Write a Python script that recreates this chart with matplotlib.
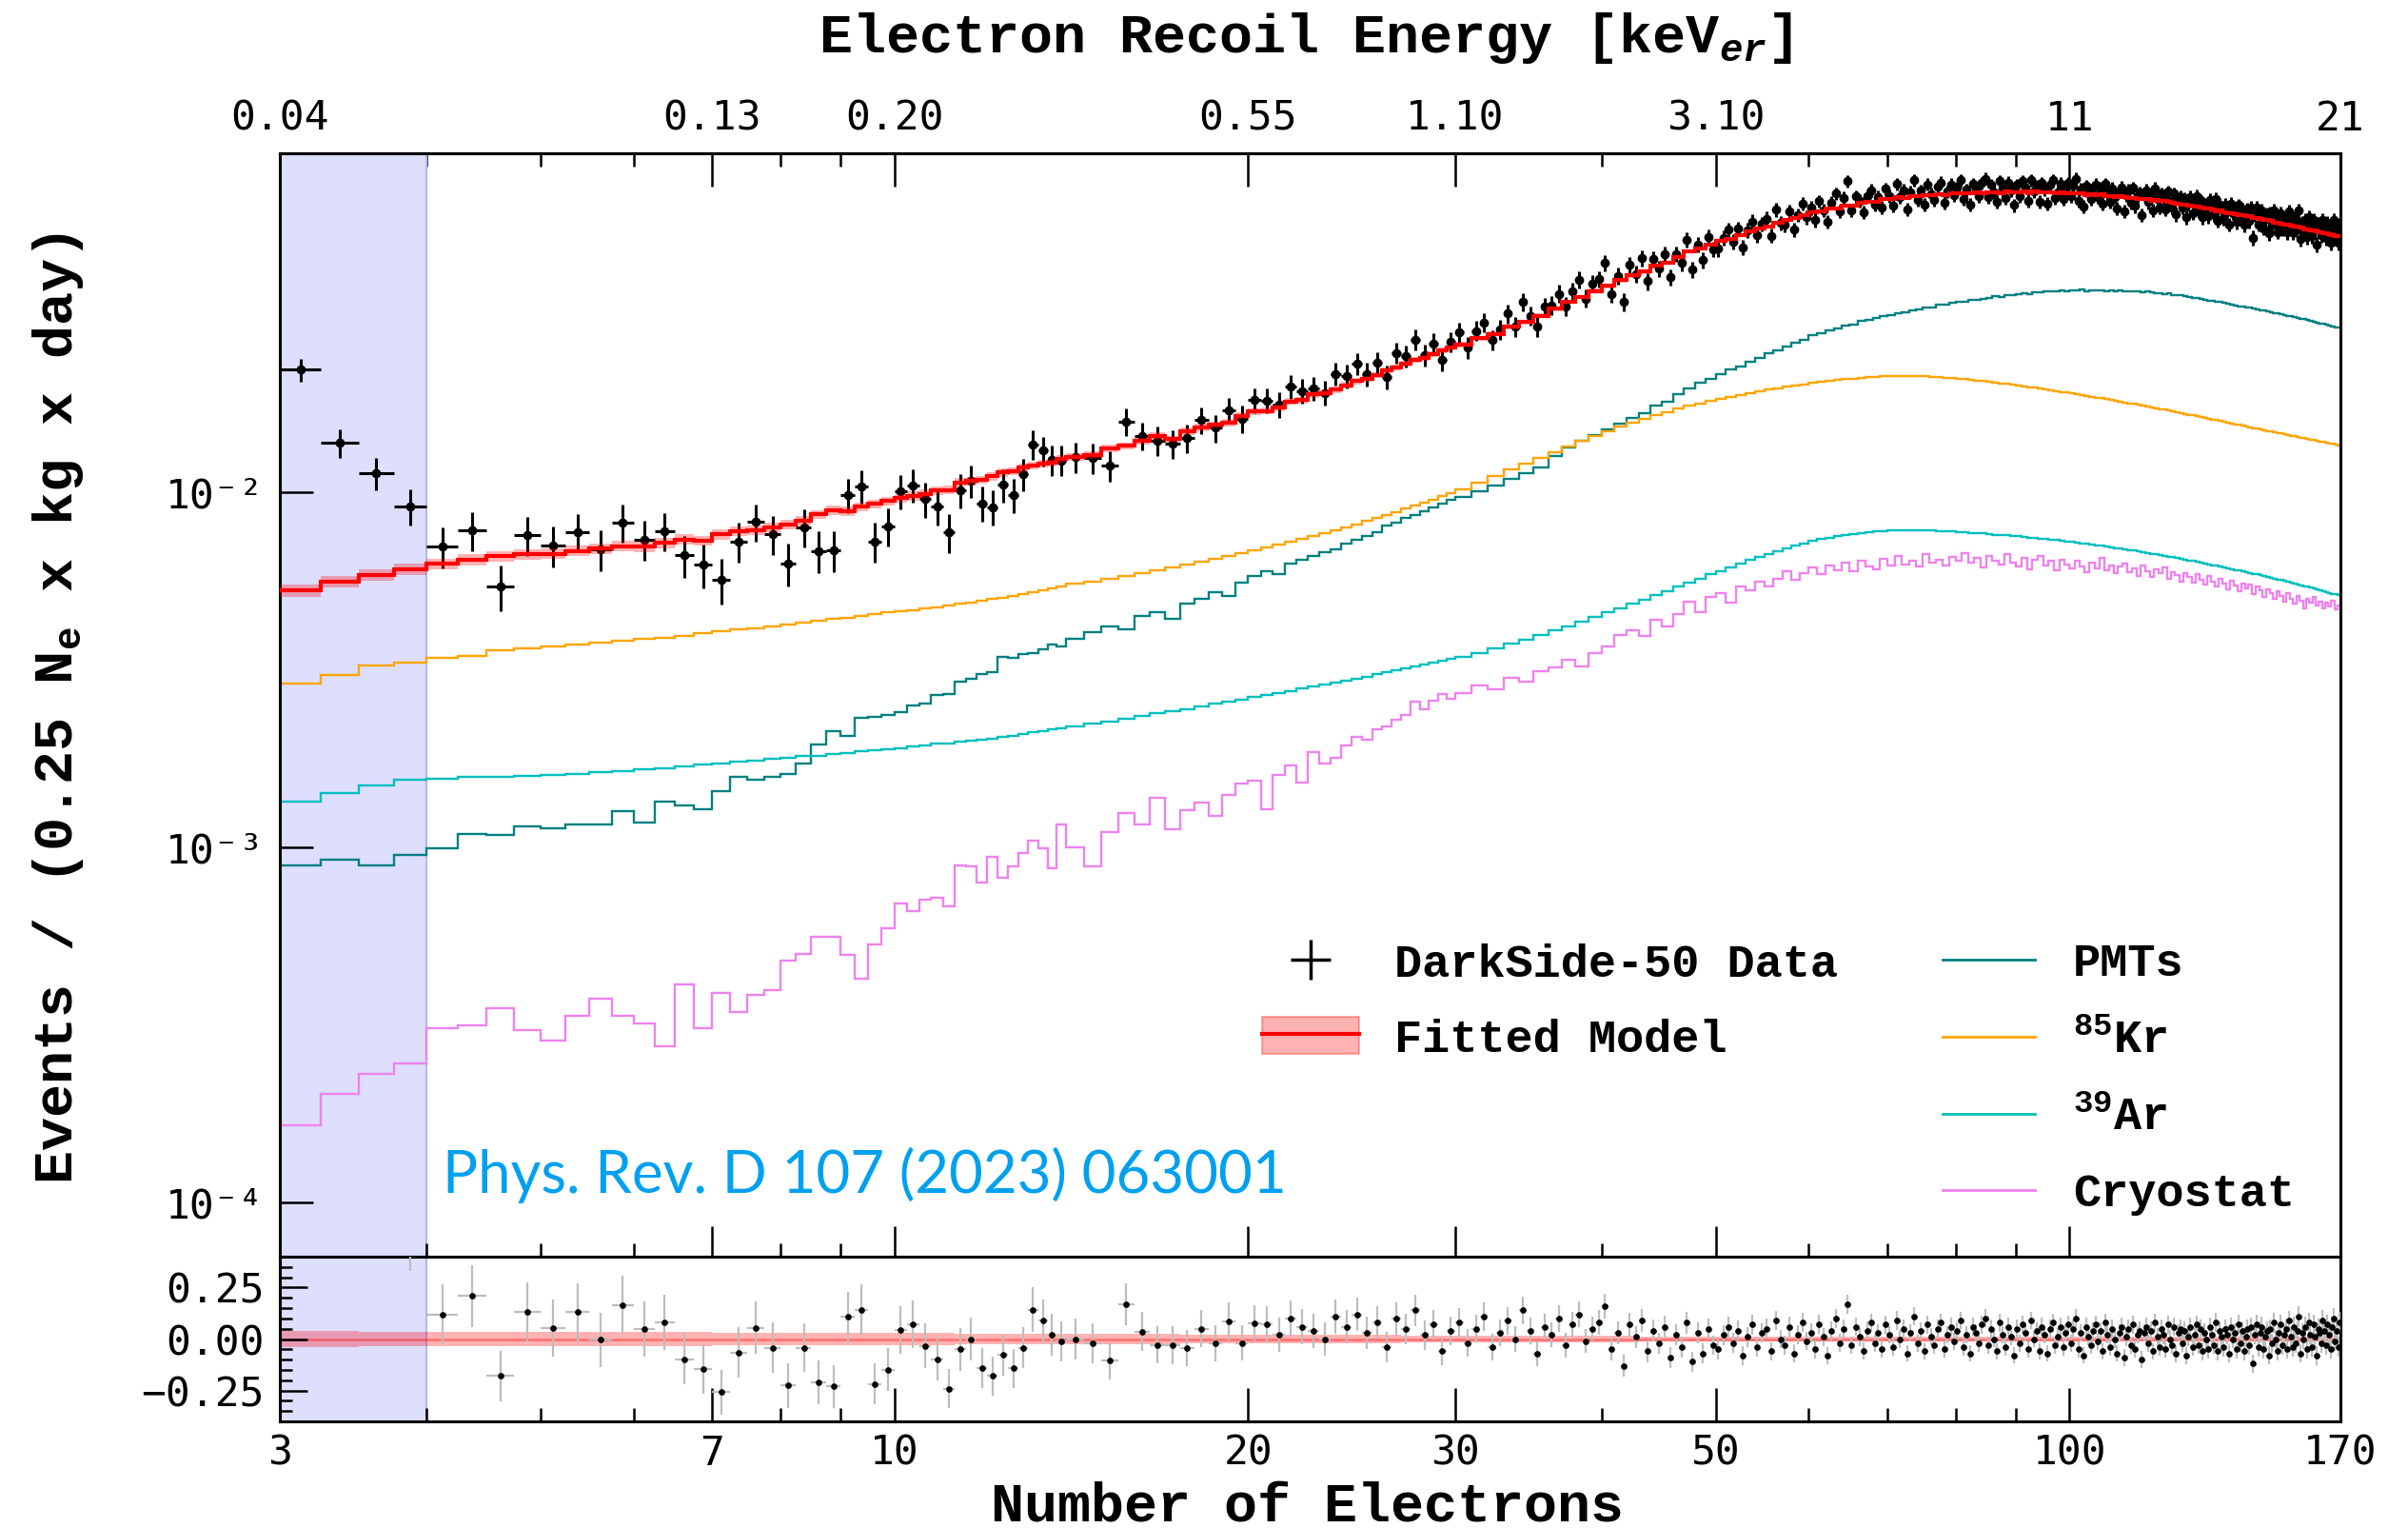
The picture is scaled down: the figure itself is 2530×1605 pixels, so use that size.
import numpy as np
import matplotlib
matplotlib.use("Agg")
import matplotlib.pyplot as plt
from matplotlib.lines import Line2D
from matplotlib.patches import Patch
from matplotlib.legend_handler import HandlerTuple
from matplotlib.ticker import FixedLocator, NullFormatter, NullLocator, FixedFormatter

# ---------------- data (rates in units of 1e-5 events / (0.25 Ne kg day)) ----------------
SCALE = 1e-5
# model bin edges in number of electrons (0.25 Ne bins below 14, 0.5 to 30, 1 above)
edges = np.concatenate([np.arange(3, 14, 0.25), np.arange(14, 30, 0.5), np.arange(30, 171, 1.0)])
# data bin edges (0.25 below 14, 0.5 above)
data_edges = np.concatenate([np.arange(3, 14, 0.25), np.arange(14, 30, 0.5), np.arange(30, 170.25, 0.5)])

kr85 = [288, 305, 324, 330, 341, 345, 358, 363, 368, 372, 376, 380, 385, 389, 393, 399,
        404, 409, 413, 418, 423, 428, 433, 438, 443, 448, 452, 457, 461, 465, 470, 474,
        479, 484, 489, 494, 499, 504, 510, 516, 522, 528, 534, 540,
        550, 560, 570, 581, 592, 603, 614, 625, 636, 648, 660, 672, 684, 697, 710, 723,
        737, 751, 765, 780, 795, 811, 827, 844, 861, 878, 896, 914, 933, 952, 972, 992,
        1015, 1062, 1108, 1155, 1202, 1249, 1296, 1343, 1389, 1434,
        1479, 1523, 1566, 1606, 1644, 1680, 1714, 1746, 1776, 1803,
        1829, 1853, 1876, 1898, 1919, 1939, 1958, 1976, 1993, 2009,
        2024, 2038, 2051, 2063, 2074, 2084, 2093, 2101, 2108, 2113,
        2117, 2119, 2120, 2119, 2117, 2114, 2110, 2105, 2099, 2092,
        2085, 2077, 2069, 2060, 2051, 2042, 2032, 2022, 2012, 2002,
        1992, 1982, 1972, 1962, 1952, 1942, 1932, 1922, 1912, 1902,
        1892, 1882, 1872, 1862, 1852, 1842, 1833, 1823, 1813, 1804,
        1794, 1785, 1775, 1766, 1757, 1747, 1738, 1729, 1720, 1711,
        1702, 1693, 1684, 1675, 1666, 1657, 1649, 1640, 1632, 1623,
        1615, 1607, 1598, 1590, 1582, 1574, 1566, 1558, 1550, 1542,
        1535, 1527, 1520, 1513, 1506, 1499, 1492, 1485, 1478, 1472,
        1465, 1459, 1452, 1446, 1440, 1433, 1427, 1421, 1415, 1409,
        1403, 1397, 1391, 1386, 1380, 1374, 1369, 1363, 1358, 1352]

ar39 = [134, 142, 149, 155, 156, 158, 158, 159, 160, 161, 163, 164, 166, 167, 169, 171,
        172, 174, 175, 177, 178, 180, 181, 183, 184, 186, 187, 189, 190, 192, 193, 195,
        196, 198, 199, 201, 202, 204, 206, 208, 210, 212, 214, 216,
        218, 222, 226, 230, 234, 238, 241, 245, 249, 253, 256, 260, 264, 268, 271, 275,
        279, 283, 287, 290, 294, 298, 302, 306, 310, 314, 318, 322, 326, 330, 334, 338,
        342, 352, 362, 373, 384, 395, 407, 419, 431, 444,
        457, 470, 484, 498, 512, 526, 541, 556, 570, 585,
        599, 614, 628, 642, 656, 669, 682, 694, 706, 717,
        727, 736, 744, 751, 757, 762, 767, 771, 774, 776,
        778, 779, 780, 780, 780, 779, 778, 777, 775, 773,
        771, 769, 767, 765, 763, 761, 758, 756, 754, 751,
        749, 746, 744, 741, 739, 736, 733, 731, 728, 725,
        722, 719, 716, 713, 710, 707, 704, 701, 698, 695,
        692, 689, 686, 683, 679, 676, 673, 670, 667, 663,
        660, 657, 654, 651, 647, 644, 641, 638, 635, 631,
        628, 625, 622, 619, 616, 613, 609, 606, 603, 600,
        597, 594, 591, 588, 585, 582, 579, 576, 573, 570,
        567, 564, 561, 558, 555, 552, 549, 546, 543, 540,
        537, 534, 531, 528, 525, 522, 520, 517, 514, 512]

pmts = [89, 92, 89, 95, 99, 109, 108, 114, 113, 116, 116, 126, 117, 134, 131, 128,
        144, 158, 155, 158, 161, 172, 194, 212, 205, 231, 233, 236, 240, 251, 253, 268,
        270, 292, 298, 307, 310, 343, 340, 349, 352, 360, 372, 368,
        385, 402, 418, 410, 447, 458, 440, 485, 500, 522, 510, 556, 580, 598, 585, 628,
        645, 660, 676, 690, 715, 735, 752, 770, 805, 820, 846, 862, 880, 905, 925, 950,
        970, 1005, 1040, 1085, 1130, 1175, 1260, 1330, 1395, 1445,
        1495, 1555, 1610, 1670, 1750, 1790, 1880, 1960, 2030, 2080,
        2140, 2210, 2250, 2330, 2380, 2450, 2500, 2560, 2630, 2680,
        2760, 2790, 2850, 2880, 2940, 2960, 3030, 3050, 3080, 3130,
        3150, 3190, 3200, 3250, 3270, 3300, 3310, 3360, 3370, 3400,
        3420, 3430, 3470, 3480, 3500, 3510, 3550, 3540, 3580, 3590,
        3600, 3620, 3610, 3650, 3640, 3660, 3680, 3660, 3690, 3680,
        3700, 3690, 3710, 3680, 3700, 3690, 3700, 3680, 3690, 3680,
        3690, 3670, 3680, 3660, 3670, 3650, 3660, 3640, 3630, 3620,
        3610, 3620, 3590, 3580, 3570, 3550, 3530, 3520, 3510, 3490,
        3480, 3460, 3450, 3430, 3420, 3400, 3380, 3370, 3350, 3330,
        3330, 3305, 3300, 3280, 3270, 3245, 3240, 3220, 3210, 3190,
        3180, 3160, 3150, 3130, 3120, 3100, 3090, 3070, 3060, 3040,
        3030, 3010, 3000, 2980, 2970, 2950, 2940, 2920, 2910, 2895]

cryostat = [16.5, 20.2, 22.9, 24.6, 30.9, 31.5, 35.2, 30.5, 28.5, 33.4, 37.4, 33.5,
            31.8, 27.5, 41.1, 30.9, 38.9, 34.4, 38.3, 39.6, 47.9, 50.1, 55.9, 55.9,
            49.7, 42.7, 53.3, 58.9, 69.5, 66, 71, 72, 68, 88.7, 88, 79.6,
            94, 82, 88, 96, 104, 99, 87, 116,
            100, 88, 110, 125, 116, 138, 112, 127, 133, 122, 140, 151, 154, 128, 160, 170,
            152, 185, 172, 178, 193, 204, 200, 215, 218, 228, 236, 256, 244, 258, 270, 262,
            272, 285, 278, 300, 292, 312, 320, 336, 322, 352,
            368, 395, 408, 392, 436, 418, 452, 490, 458, 505,
            520, 488, 540, 528, 560, 542, 570, 598, 565, 590,
            612, 585, 620, 600, 632, 598, 640, 615, 605, 648,
            620, 660, 625, 640, 615, 668, 630, 645, 620, 655,
            638, 672, 630, 650, 612, 660, 640, 625, 668, 630,
            615, 650, 605, 642, 660, 620, 638, 600, 645, 625,
            608, 640, 615, 595, 632, 610, 650, 600, 622, 590,
            615, 628, 595, 610, 580, 620, 598, 575, 605, 590,
            612, 570, 595, 582, 560, 590, 575, 555, 585, 565,
            548, 580, 560, 540, 568, 550, 530, 562, 545, 525,
            552, 535, 548, 515, 540, 528, 505, 532, 518, 500,
            525, 510, 492, 518, 500, 485, 510, 495, 470, 500,
            488, 505, 478, 492, 470, 488, 475, 495, 468, 480]

# (data - model) / model per data bin
residual = [3.19, 1.455, 0.93, 0.506, 0.12, 0.209, -0.18, 0.132, 0.054, 0.131, -0.003, 0.166,
            0.048, 0.082, -0.098, -0.146, -0.257, -0.065, 0.054, -0.042, -0.226, -0.042, -0.21, -0.231,
            0.108, 0.143, -0.218, -0.149, 0.043, 0.071, -0.034, -0.098, -0.242, -0.049, 0.0, -0.142,
            -0.18, -0.077, -0.142, -0.042, 0.143, 0.089, 0.02, -0.011,
            0.0, -0.02, -0.105, 0.17, 0.035, -0.03, -0.03, -0.045, 0.05, -0.02, 0.086, -0.02,
            0.077, 0.07, 0.02, 0.1, 0.06, 0.04, 0.0, 0.108, 0.06, 0.12, 0.03, 0.08,
            -0.04, 0.10, 0.05, 0.14, 0.02, 0.07, -0.06, 0.04,
            0.08, -0.02, 0.05, 0.11, -0.04, 0.03, 0.09, 0.00, 0.14, 0.04,
            -0.07, 0.06, 0.02, 0.10, -0.03, 0.07, 0.12, -0.01, 0.05, 0.08,
            0.16, -0.05, 0.03, -0.13, 0.07, 0.01, 0.09, -0.06, 0.04, -0.02,
            0.06, -0.09, 0.02, -0.04, 0.08, -0.11, 0.03, -0.07, 0.05, -0.03,
            -0.05, 0.02, 0.06, -0.02, 0.04, -0.08, 0.01, 0.07, -0.04, 0.03,
            0.05, -0.06, 0.09, 0.00, -0.03, 0.06, -0.07, 0.02, 0.08, -0.01,
            0.03, -0.05, 0.07, 0.01, -0.08, 0.04, 0.10, -0.02, 0.05, 0.17,
            -0.03, 0.06, 0.01, -0.06, 0.04, 0.08, -0.02, 0.03, -0.05, 0.07,
            0.02, -0.04, 0.09, 0.00, 0.05, -0.07, 0.03, 0.11, -0.02, 0.04,
            -0.06, 0.07, 0.01, -0.03, 0.05, 0.08, -0.05, 0.02, 0.06, -0.01,
            0.04, 0.09, -0.04, 0.02, -0.07, 0.06, 0.03, -0.02, 0.07, 0.10,
            -0.03, 0.05, 0.00, -0.06, 0.08, 0.02, -0.04, 0.06, 0.01, -0.08,
            0.05, -0.02, 0.07, 0.03, -0.05, 0.09, 0.00, 0.04, -0.06, 0.06,
            0.02, -0.07, 0.05, 0.08, -0.03, 0.01, 0.06, -0.04, 0.03, 0.07,
            -0.02, 0.05, 0.10, -0.05, 0.03, -0.08, 0.06, 0.01, -0.03, 0.04,
            0.07, -0.01, 0.04, -0.06, 0.08, 0.02, -0.04, 0.05, 0.00, -0.07,
            0.03, 0.06, -0.09, 0.01, 0.05, -0.03, 0.07, -0.05, 0.02, 0.04,
            -0.10, 0.03, 0.06, -0.02, 0.04, -0.06, 0.08, 0.01, -0.04, 0.05,
            0.02, -0.05, 0.07, 0.00, -0.03, 0.06, -0.07, 0.03, 0.05, -0.02,
            0.04, -0.08, 0.01, 0.06, -0.04, 0.02, 0.07, -0.03, 0.05, -0.06,
            0.03, 0.00, -0.05, 0.06, 0.02, -0.03, 0.08, -0.06, 0.04, 0.01,
            -0.04, 0.05, 0.02, -0.07, 0.06, 0.00, 0.03, -0.05, 0.07, -0.02,
            0.04, -0.06, 0.01, 0.05, -0.03, 0.06, -0.12, 0.02, 0.07, -0.04,
            0.03, 0.06, -0.05, 0.01, 0.04, -0.08, 0.05, -0.02, 0.08, 0.00,
            -0.06, 0.03, 0.07, -0.03, 0.02, 0.05, -0.05, 0.09, 0.01, -0.04,
            0.06, -0.02, 0.04, 0.11, -0.07, 0.03, 0.00, 0.06, -0.05, 0.08,
            0.02, -0.04, 0.07, 0.01, -0.08, 0.05, 0.03, -0.02, 0.09, 0.04,
            -0.03, 0.07, 0.02, -0.05, 0.06, 0.10, -0.01, 0.04, -0.04, 0.08]

EXPOSURE = 8300.0          # effective counts per unit rate (sets Poisson error bars)
MODEL_UNC_COEF = 0.0028    # fit uncertainty band ~ coef * sqrt(model)
ROI_LOW, ROI_HIGH = 3, 4   # excluded (shaded) region in Ne

bottom_ticks = [3, 7, 10, 20, 30, 50, 100, 170]
bottom_tick_labels = ["3", "7", "10", "20", "30", "50", "100", "170"]
minor_ticks = [4, 5, 6, 8, 9, 40, 60, 70, 80, 90]
top_tick_labels = ["0.04", "0.13", "0.20", "0.55", "1.10", "3.10", "11", "21"]
y_ticks = [1e-4, 1e-3, 1e-2]
y_tick_labels = ["10\u207b\u2074", "10\u207b\u00b3", "10\u207b\u00b2"]
res_ticks = [-0.25, 0.0, 0.25]
res_tick_labels = ["\u22120.25", "0.00", "0.25"]

# ---------------- derived ----------------
kr85 = np.array(kr85) * SCALE
ar39 = np.array(ar39) * SCALE
pmts = np.array(pmts) * SCALE
cryostat = np.array(cryostat) * SCALE
residual = np.array(residual)
model = kr85 + ar39 + pmts + cryostat
model_unc = MODEL_UNC_COEF * np.sqrt(model)

d_centers = 0.5 * (data_edges[1:] + data_edges[:-1])
d_halfw = 0.5 * (data_edges[1:] - data_edges[:-1])
model_at_data = model[np.searchsorted(edges, d_centers) - 1]   # step-function value of the model
data = model_at_data * (1 + residual)
data_err = np.sqrt(data * EXPOSURE) / EXPOSURE

# ---------------- style ----------------
plt.rcParams["mathtext.fontset"] = "custom"
plt.rcParams["mathtext.rm"] = "Liberation Mono:bold"
plt.rcParams["mathtext.it"] = "Liberation Mono:italic:bold"
plt.rcParams["mathtext.bf"] = "Liberation Mono:bold"
LABEL_FONT = dict(family="Liberation Mono", weight="bold", size=42)
LEG_FONT = dict(family="Liberation Mono", weight="bold", size=35)
TICK_FONT = "DejaVu Sans Mono"
TICK_SIZE = 31
SPINE_W = 2.2

fig = plt.figure(figsize=(25.3, 16.05), dpi=100)
ax = fig.add_axes([0.1162, 0.17757, 0.8557, 0.72212])
axr = fig.add_axes([0.1162, 0.06978, 0.8557, 0.10779], sharex=ax)

for a in (ax, axr):
    a.axvspan(ROI_LOW, ROI_HIGH, facecolor="blue", alpha=0.13, lw=0, zorder=0)
    a.axvline(ROI_HIGH, color="#b4b4f4", lw=1.5, zorder=0.5)
    for s in a.spines.values():
        s.set_linewidth(SPINE_W)

# components
comp_styles = [(pmts, "teal", "PMTs"), (kr85, "orange", "$^{85}$Kr"),
               (ar39, "c", "$^{39}$Ar"), (cryostat, "violet", "Cryostat")]
for vals, col, lab in comp_styles:
    ax.stairs(vals, edges, baseline=None, color=col, lw=1.7, zorder=2)

# data
ax.errorbar(d_centers, data, xerr=d_halfw, yerr=data_err, fmt="o", color="k", ms=6,
            elinewidth=2.2, capsize=0, zorder=3)

# fitted model with band
ax.stairs(model + model_unc, edges, baseline=model - model_unc, fill=True,
          color="red", alpha=0.3, lw=0, zorder=4)
ax.stairs(model, edges, baseline=None, color="red", lw=3.0, zorder=5)

ax.set_xscale("log")
ax.set_yscale("log")
ax.set_xlim(3, 170)
ax.set_ylim(10 ** -4.1535, 10 ** -1.0467)

# residual panel
rel_unc = model_unc / model
axr.stairs(rel_unc, edges, baseline=-rel_unc, fill=True, color="red", alpha=0.3, lw=0, zorder=1)
axr.axhline(0, color="red", alpha=0.35, lw=2, zorder=1)
axr.errorbar(d_centers, residual, xerr=d_halfw, yerr=data_err / model_at_data, fmt="o",
             color="k", ecolor="#bdbdbd", ms=3.8, elinewidth=1.6, capsize=0, zorder=3)
axr.set_ylim(-0.4, 0.4)

# ---------------- ticks ----------------
ax.xaxis.set_major_locator(FixedLocator(bottom_ticks))
ax.xaxis.set_minor_locator(FixedLocator(minor_ticks))
ax.xaxis.set_major_formatter(FixedFormatter(bottom_tick_labels))
ax.xaxis.set_minor_formatter(NullFormatter())
ax.tick_params(axis="x", which="major", direction="in", length=23, width=1.8, labelbottom=False)
ax.tick_params(axis="x", which="minor", direction="in", length=10, width=1.8, labelbottom=False)

ax.yaxis.set_major_locator(FixedLocator(y_ticks))
ax.yaxis.set_major_formatter(FixedFormatter(y_tick_labels))
ax.yaxis.set_minor_locator(NullLocator())
ax.tick_params(axis="y", which="major", direction="in", length=25, width=1.8, pad=12,
               labelsize=TICK_SIZE)
for t in ax.get_yticklabels():
    t.set_fontfamily(TICK_FONT)

axr.tick_params(axis="x", which="major", direction="in", length=25, width=1.8, pad=9,
                labelsize=TICK_SIZE, labelbottom=True)
axr.tick_params(axis="x", which="minor", direction="in", length=10, width=1.8)
axr.yaxis.set_major_locator(FixedLocator(res_ticks))
axr.yaxis.set_major_formatter(FixedFormatter(res_tick_labels))
axr.yaxis.set_minor_locator(FixedLocator(np.arange(-0.35, 0.4, 0.05)))
axr.tick_params(axis="y", which="major", direction="in", length=21, width=1.8, pad=12,
                labelsize=TICK_SIZE)
axr.tick_params(axis="y", which="minor", direction="in", length=9, width=1.8)
for t in axr.get_xticklabels() + axr.get_yticklabels():
    t.set_fontfamily(TICK_FONT)

# top axis: electron recoil energy
secax = ax.secondary_xaxis("top", functions=(lambda x: x, lambda x: x))
secax.xaxis.set_major_locator(FixedLocator(bottom_ticks))
secax.xaxis.set_major_formatter(FixedFormatter(top_tick_labels))
secax.xaxis.set_minor_locator(FixedLocator(minor_ticks))
secax.xaxis.set_minor_formatter(NullFormatter())
secax.tick_params(axis="x", which="major", direction="in", length=25, width=1.8, pad=11,
                  labelsize=TICK_SIZE)
secax.tick_params(axis="x", which="minor", direction="in", length=10, width=1.8)
secax.spines["top"].set_linewidth(SPINE_W)
for t in secax.get_xticklabels():
    t.set_fontfamily(TICK_FONT)

# ---------------- labels ----------------
fig.text(0.542, 0.9657, "Electron Recoil Energy [keV$_{er}$]", ha="center", va="baseline",
         **LABEL_FONT)
fig.text(0.543, 0.0044, "Number of Electrons", ha="center", va="baseline", **LABEL_FONT)
fig.text(0.0241, 0.5361, "Events / (0.25 N$_{\\mathrm{e}}$ x kg x day)", rotation=90,
         ha="center", va="center", **LABEL_FONT)
fig.text(0.1838, 0.2193, "Phys. Rev. D 107 (2023) 063001", color="#00a0f0",
         family="Lato", size=44.5, ha="left", va="baseline")

# ---------------- legends ----------------
h_data = Line2D([], [], color="k", marker="+", ms=30, mew=2.5, ls="none")
h_fit = (Patch(facecolor=(1, 0, 0, 0.3), edgecolor=(1, 0, 0, 0.3), lw=1.5),
         Line2D([], [], color="red", lw=3.0))
leg1 = ax.legend([h_data, h_fit], ["DarkSide-50 Data", "Fitted Model"], loc="upper left",
                 bbox_to_anchor=(0.4767, 0.2847), frameon=False, prop=LEG_FONT,
                 handlelength=2.1, handletextpad=0.76, labelspacing=0.66, borderpad=0,
                 borderaxespad=0, handleheight=0.85,
                 handler_map={tuple: HandlerTuple(ndivide=1, pad=0)})
ax.add_artist(leg1)
comp_handles = [Line2D([], [], color=c, lw=2.0) for _, c, _ in comp_styles]
leg2 = ax.legend(comp_handles, [l for _, _, l in comp_styles], loc="upper left",
                 bbox_to_anchor=(0.807, 0.2847), frameon=False, prop=LEG_FONT,
                 handlelength=2.0, handletextpad=0.82, labelspacing=0.73, borderpad=0,
                 borderaxespad=0)

fig.savefig("out.png", dpi=100)
